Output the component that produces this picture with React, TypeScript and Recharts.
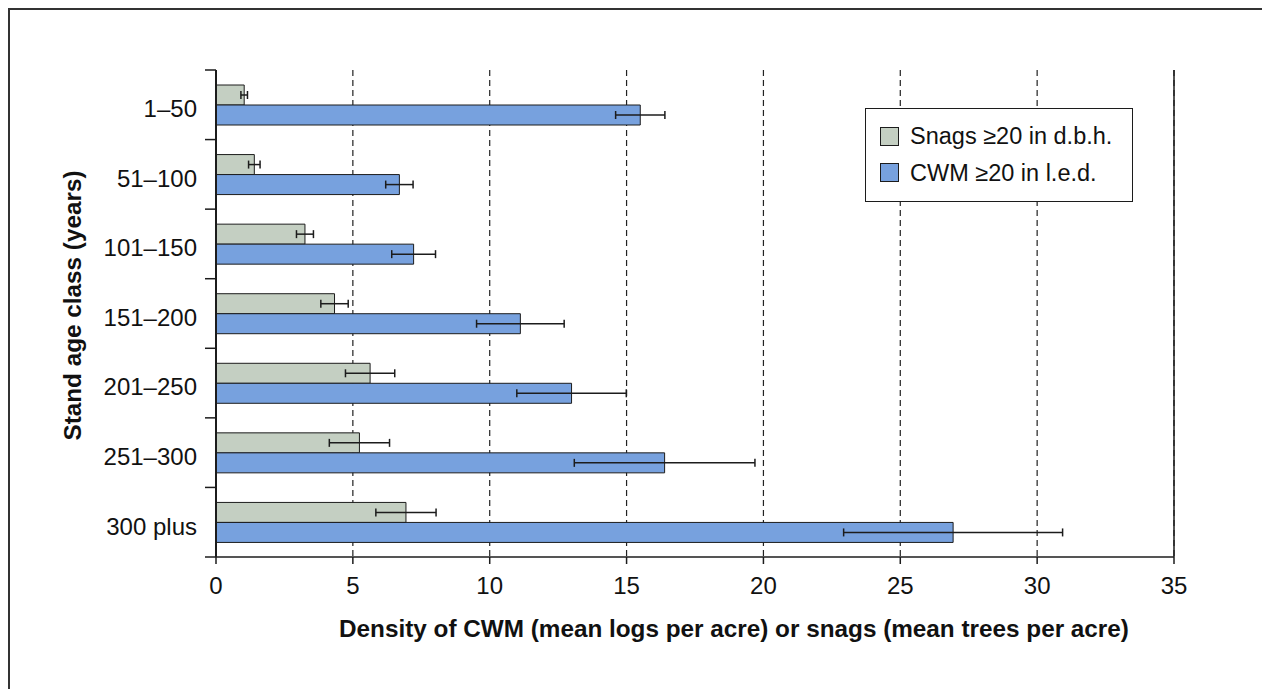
import React from "react";
import {
  BarChart,
  Bar,
  XAxis,
  YAxis,
  CartesianGrid,
  ErrorBar,
  Legend,
  Label,
  ReferenceLine,
} from "recharts";

// Stand age classes, top to bottom
const ageClasses = ["1–50", "51–100", "101–150", "151–200", "201–250", "251–300", "300 plus"];

// Snags >=20 in d.b.h. (mean trees per acre) and their error half-widths
const snagMeans = [1.03, 1.4, 3.25, 4.33, 5.63, 5.24, 6.94];
const snagErrors = [0.12, 0.21, 0.31, 0.5, 0.9, 1.1, 1.1];

// CWM >=20 in l.e.d. (mean logs per acre) and their error half-widths
const cwmMeans = [15.5, 6.7, 7.22, 11.12, 12.99, 16.39, 26.93];
const cwmErrors = [0.9, 0.5, 0.8, 1.6, 2.0, 3.3, 4.0];

const xTicks = [0, 5, 10, 15, 20, 25, 30, 35];

const seriesNames = ["Snags ≥20 in d.b.h.", "CWM ≥20 in l.e.d."];
const snagColor = "#c4cfc2";
const cwmColor = "#77a1de";
const inkColor = "#1c1c1c";
const fontFamily = '"Liberation Sans", Arial, sans-serif';

const chartData = ageClasses.map((name, i) => ({
  name,
  snags: snagMeans[i],
  snagsErr: snagErrors[i],
  cwm: cwmMeans[i],
  cwmErr: cwmErrors[i],
}));

// Category tick: label at band centre, short tick lines at band edges
function AgeTick(props: any) {
  const { x, y, payload, index, visibleTicksCount } = props;
  const half = payload?.offset ?? 34.8;
  const isLast = index === (visibleTicksCount ?? ageClasses.length) - 1;
  return (
    <g>
      <line x1={x - 11} x2={x} y1={y - half} y2={y - half} stroke={inkColor} strokeWidth={1.5} />
      {isLast && (
        <line x1={x - 11} x2={x} y1={y + half} y2={y + half} stroke={inkColor} strokeWidth={1.5} />
      )}
      <text
        x={x - 19}
        y={y + 12.3}
        textAnchor="end"
        fontSize={24}
        fontFamily={fontFamily}
        fill="#111"
      >
        {payload.value}
      </text>
    </g>
  );
}

function LegendBox() {
  const swatches = [snagColor, cwmColor];
  return (
    <div
      style={{
        position: "relative",
        width: 268,
        height: 94,
        boxSizing: "border-box",
        border: `1.5px solid ${inkColor}`,
        background: "#fff",
        fontFamily,
        fontSize: 23.5,
        color: "#111",
      }}
    >
      {seriesNames.map((label, i) => (
        <React.Fragment key={label}>
          <div
            style={{
              position: "absolute",
              left: 14,
              top: 17.5 + i * 36.5,
              width: 19,
              height: 19,
              boxSizing: "border-box",
              background: swatches[i],
              border: `1px solid ${inkColor}`,
            }}
          />
          <div
            style={{
              position: "absolute",
              left: 44,
              top: 15.5 + i * 37.5,
              lineHeight: "23.5px",
              whiteSpace: "nowrap",
            }}
          >
            {label}
          </div>
        </React.Fragment>
      ))}
    </div>
  );
}

export default function App() {
  return (
    <div
      style={{
        position: "fixed",
        left: 8,
        top: 8,
        width: 1254,
        height: 681,
        boxSizing: "border-box",
        borderLeft: "2px solid #333",
        borderTop: "2px solid #333",
        background: "#fff",
      }}
    >
      <BarChart
        width={1252}
        height={679}
        data={chartData}
        layout="vertical"
        margin={{ top: 60, right: 88, left: 0, bottom: 52 }}
        barSize={20}
        barGap={0}
      >
        <CartesianGrid
          horizontal={false}
          stroke="#222"
          strokeDasharray="6 4"
          strokeWidth={1.2}
        />
        <XAxis
          type="number"
          domain={[0, 35]}
          ticks={xTicks}
          interval={0}
          height={80}
          axisLine={{ stroke: inkColor, strokeWidth: 1.5 }}
          tickLine={{ stroke: inkColor, strokeWidth: 1.5 }}
          tickSize={7}
          tickMargin={13}
          tick={{ fontSize: 24, fontFamily, fill: "#111" }}
        >
          <Label
            content={(p: any) => {
              const vb = p.viewBox ?? { x: 206, y: 547, width: 958 };
              return (
                <text
                  x={vb.x + vb.width / 2 + 39}
                  y={vb.y + 80}
                  textAnchor="middle"
                  fontSize={24.3}
                  fontWeight="bold"
                  fontFamily={fontFamily}
                  fill="#111"
                >
                  Density of CWM (mean logs per acre) or snags (mean trees per acre)
                </text>
              );
            }}
          />
        </XAxis>
        <XAxis
          xAxisId="top"
          type="number"
          orientation="top"
          domain={[0, 35]}
          height={0}
          tick={false}
          tickLine={false}
          axisLine={{ stroke: inkColor, strokeWidth: 1.5 }}
        />
        <YAxis
          type="category"
          dataKey="name"
          width={206}
          interval={0}
          axisLine={{ stroke: inkColor, strokeWidth: 2 }}
          tickLine={false}
          tickSize={0}
          tickMargin={0}
          tick={<AgeTick />}
        >
          <Label
            content={(p: any) => {
              const vb = p.viewBox ?? { x: 0, y: 60, width: 206, height: 487 };
              const cx = vb.x + 62;
              const cy = vb.y + vb.height / 2 - 8;
              return (
                <text
                  x={cx}
                  y={cy}
                  transform={`rotate(-90, ${cx}, ${cy})`}
                  textAnchor="middle"
                  dominantBaseline="central"
                  fontSize={24.3}
                  fontWeight="bold"
                  fontFamily={fontFamily}
                  fill="#111"
                >
                  Stand age class (years)
                </text>
              );
            }}
          />
        </YAxis>
        <ReferenceLine x={35} stroke={inkColor} strokeWidth={1.5} />
        <Legend
          layout="vertical"
          align="center"
          verticalAlign="middle"
          wrapperStyle={{ left: 855, top: 98, width: 268, height: 94 }}
          content={() => <LegendBox />}
        />
        <Bar
          dataKey="snags"
          name={seriesNames[0]}
          fill={snagColor}
          stroke={inkColor}
          strokeWidth={1}
          isAnimationActive={false}
        >
          <ErrorBar dataKey="snagsErr" direction="x" width={4} stroke={inkColor} strokeWidth={1.5} />
        </Bar>
        <Bar
          dataKey="cwm"
          name={seriesNames[1]}
          fill={cwmColor}
          stroke={inkColor}
          strokeWidth={1}
          isAnimationActive={false}
        >
          <ErrorBar dataKey="cwmErr" direction="x" width={4} stroke={inkColor} strokeWidth={1.5} />
        </Bar>
      </BarChart>
    </div>
  );
}
